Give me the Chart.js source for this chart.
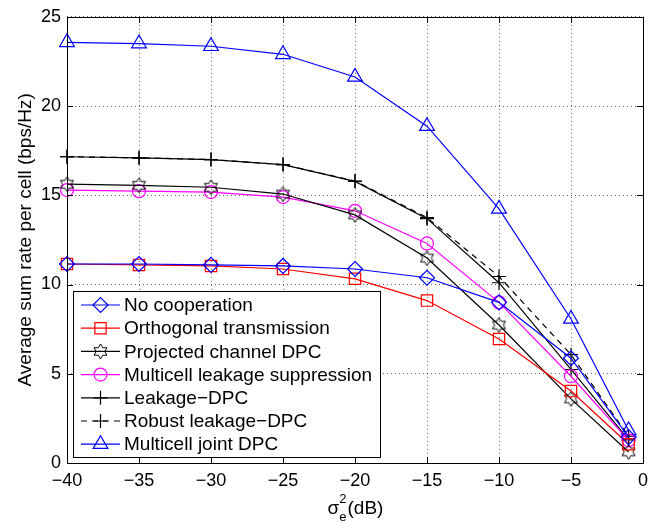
<!DOCTYPE html>
<html>
<head>
<meta charset="utf-8">
<script src="https://cdn.jsdelivr.net/npm/chart.js@4.4.0/dist/chart.umd.min.js"></script>
<style>
  html, body { margin: 0; padding: 0; background: #fff; }
  #wrap { width: 668px; height: 523px; position: relative; }
</style>
</head>
<body>
<div id="wrap"><canvas id="c"></canvas></div>
<script>
// values
const xValues = [-40, -35, -30, -25, -20, -15, -10, -5, -1];
const xTicks = [-40, -35, -30, -25, -20, -15, -10, -5, 0];
const yTicks = [0, 5, 10, 15, 20, 25];

const noCooperation = [11.15, 11.15, 11.1, 11.04, 10.87, 10.38, 9.0, 5.87, 1.45];
const orthogonal = [11.15, 11.1, 11.04, 10.87, 10.32, 9.1, 6.95, 4.03, 1.05];
const projectedDpc = [15.62, 15.56, 15.45, 15.07, 13.9, 11.48, 7.73, 3.59, 0.62];
const leakageSuppression = [15.29, 15.23, 15.18, 14.9, 14.13, 12.3, 9.0, 4.86, 1.27];
const leakageDpc = [17.16, 17.1, 17.0, 16.72, 15.78, 13.69, 10.1, 5.24, 1.3];
const robustLeakageDpc = [17.16, 17.1, 17.0, 16.72, 15.8, 13.75, 10.45, 6.07, 1.5];
const jointDpc = [23.57, 23.5, 23.35, 22.9, 21.63, 18.87, 14.24, 8.07, 1.82];

const FONT = '"Liberation Sans", Arial, Helvetica, sans-serif';

function hexagram(size, color) {
  const c = document.createElement('canvas');
  c.width = size; c.height = size;
  const g = c.getContext('2d');
  const R = size / 2 - 1, r = R / Math.sqrt(3), cx = size / 2, cy = size / 2;
  g.beginPath();
  for (let i = 0; i < 12; i++) {
    const a = -Math.PI / 2 + i * Math.PI / 6;
    const rr = i % 2 === 0 ? R : r;
    const px = cx + rr * Math.cos(a), py = cy + rr * Math.sin(a);
    if (i === 0) g.moveTo(px, py); else g.lineTo(px, py);
  }
  g.closePath();
  g.strokeStyle = color; g.lineWidth = 1;
  g.stroke();
  return c;
}
const hexImg = hexagram(17, '#000');

function pts(ys) { return xValues.map((x, i) => ({ x: x, y: ys[i] })); }

function series(label, ys, color, style, radius, dash) {
  return {
    label: label,
    data: pts(ys),
    borderColor: color,
    backgroundColor: 'rgba(0,0,0,0)',
    borderWidth: 1.2,
    borderDash: dash || [],
    pointStyle: style,
    pointRadius: radius,
    pointHoverRadius: radius,
    pointBorderColor: color,
    pointBackgroundColor: 'rgba(0,0,0,0)',
    pointBorderWidth: 1.2,
    tension: 0,
    clip: false
  };
}

const datasets = [
  series('No cooperation', noCooperation, '#0000ff', 'rectRot', 7.5),
  series('Orthogonal transmission', orthogonal, '#ff0000', 'rect', 8),
  series('Projected channel DPC', projectedDpc, '#000000', hexImg, 8),
  series('Multicell leakage suppression', leakageSuppression, '#ff00ff', 'circle', 6.5),
  series('Leakage\u2212DPC', leakageDpc, '#000000', 'cross', 7),
  series('Robust leakage\u2212DPC', robustLeakageDpc, '#000000', 'cross', 7, [6, 5]),
  series('Multicell joint DPC', jointDpc, '#0000ff', 'triangle', 8.5)
];

const fmt = v => (v < 0 ? '\u2212' + Math.abs(v) : String(v));

// box, inner ticks, legend and the sigma title
const decor = {
  id: 'decor',
  afterDraw(chart) {
    const ctx = chart.ctx;
    const a = chart.chartArea;
    const xs = chart.scales.x, ys = chart.scales.y;
    ctx.save();
    ctx.strokeStyle = '#000';
    ctx.lineWidth = 1;
    ctx.beginPath();
    xTicks.forEach(t => {
      const px = Math.round(xs.getPixelForValue(t)) + 0.5;
      ctx.moveTo(px, a.bottom); ctx.lineTo(px, a.bottom - 6);
      ctx.moveTo(px, a.top); ctx.lineTo(px, a.top + 6);
    });
    yTicks.forEach(t => {
      const py = Math.round(ys.getPixelForValue(t)) + 0.5;
      ctx.moveTo(a.left, py); ctx.lineTo(a.left + 6, py);
      ctx.moveTo(a.right, py); ctx.lineTo(a.right - 6, py);
    });
    ctx.stroke();
    ctx.strokeRect(Math.round(a.left) + 0.5, Math.round(a.top) + 0.5,
      Math.round(a.right - a.left), Math.round(a.bottom - a.top));

    // legend
    const lx = 73, ly = 291, lw = 307, lh = 166;
    ctx.fillStyle = '#fff';
    ctx.fillRect(lx, ly, lw, lh);
    ctx.strokeRect(lx + 0.5, ly + 0.5, lw, lh);
    ctx.font = '19px ' + FONT;
    ctx.textBaseline = 'middle';
    ctx.textAlign = 'left';
    chart.data.datasets.forEach((d, i) => {
      const cy = 305 + i * 23.2;
      ctx.save();
      ctx.strokeStyle = d.borderColor;
      ctx.lineWidth = 1.2;
      ctx.setLineDash(d.borderDash);
      ctx.beginPath();
      ctx.moveTo(81, cy); ctx.lineTo(120, cy);
      ctx.stroke();
      ctx.setLineDash([]);
      ctx.fillStyle = 'rgba(0,0,0,0)';
      Chart.helpers.drawPoint(ctx, {
        pointStyle: d.pointStyle, radius: d.pointRadius, rotation: 0, borderWidth: 1.2
      }, 100.5, cy);
      ctx.restore();
      ctx.fillStyle = '#000';
      ctx.fillText(d.label, 124, cy + 1);
    });

    // x title: sigma_e^2 (dB)
    const cx = (a.left + a.right) / 2;
    const base = 514;
    ctx.fillStyle = '#000';
    ctx.textBaseline = 'alphabetic';
    ctx.font = '19px ' + FONT;
    const wS = ctx.measureText('\u03c3').width;
    const wD = ctx.measureText('(dB)').width;
    ctx.font = '13px ' + FONT;
    const wSup = Math.max(ctx.measureText('2').width, ctx.measureText('e').width);
    let x0 = cx - (wS + wSup + wD) / 2;
    ctx.font = '19px ' + FONT;
    ctx.fillText('\u03c3', x0, base);
    ctx.font = '13px ' + FONT;
    ctx.fillText('2', x0 + wS, base - 11);
    ctx.fillText('e', x0 + wS, base + 7);
    ctx.font = '19px ' + FONT;
    ctx.fillText('(dB)', x0 + wS + wSup + 1, base);
    ctx.restore();
  }
};

new Chart(document.getElementById('c'), {
  type: 'line',
  data: { datasets: datasets },
  options: {
    responsive: true,
    maintainAspectRatio: false,
    animation: false,
    devicePixelRatio: 1,
    layout: { padding: { left: 0, right: 25, top: 10, bottom: 0 } },
    plugins: { legend: { display: false }, tooltip: { enabled: false } },
    scales: {
      x: {
        type: 'linear',
        min: -40, max: 0,
        afterFit: s => { s.height = 60; },
        afterBuildTicks: s => { s.ticks = xTicks.map(v => ({ value: v })); },
        border: { display: false, dash: [1, 3] },
        grid: { color: 'rgba(0,0,0,0.6)', drawTicks: false, lineWidth: 1 },
        ticks: { font: { size: 18, family: FONT }, color: '#000', padding: 7, callback: fmt, maxRotation: 0 }
      },
      y: {
        type: 'linear',
        min: 0, max: 25,
        afterFit: s => { s.width = 67; },
        afterBuildTicks: s => { s.ticks = yTicks.map(v => ({ value: v })); },
        border: { display: false, dash: [1, 3] },
        grid: { color: 'rgba(0,0,0,0.6)', drawTicks: false, lineWidth: 1 },
        ticks: { font: { size: 18, family: FONT }, color: '#000', padding: 6, callback: fmt },
        title: {
          display: true,
          text: 'Average sum rate per cell (bps/Hz)',
          font: { size: 19, family: FONT },
          color: '#000',
          padding: { top: 14, bottom: 0 }
        }
      }
    }
  },
  plugins: [decor]
});
</script>
</body>
</html>
